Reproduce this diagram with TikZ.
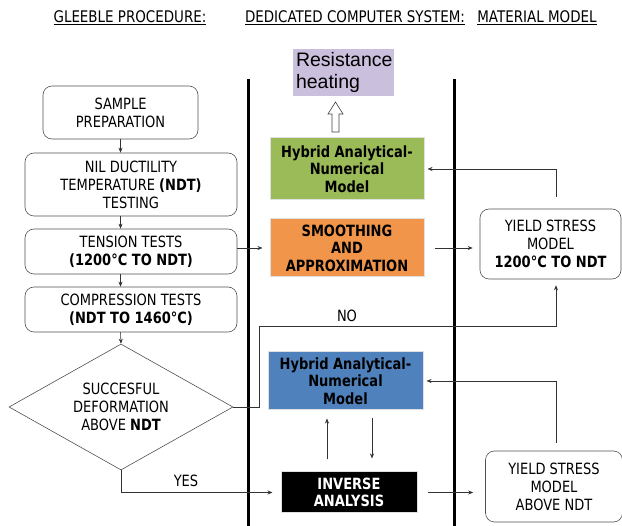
\documentclass[tikz,border=0pt]{standalone}
\usepackage{fontspec}
\setmainfont{DejaVu Sans}[FakeStretch=0.84]
\newfontfamily\arialfont{Liberation Sans}
\usetikzlibrary{shapes.geometric}
\usetikzlibrary{arrows.meta}

\definecolor{hybgreen}{HTML}{9BBB59}
\definecolor{smoothorange}{HTML}{F0954A}
\definecolor{hybblue}{HTML}{4F81BD}
\definecolor{heatlilac}{HTML}{CABFDC}
\definecolor{linegray}{HTML}{505050}

\tikzset{
  procbox/.style={draw=linegray, semithick, rounded corners=9pt, align=center, inner sep=0pt,
    font=\fontsize{15.5}{18}\selectfont},
  modelbox/.style={draw=black!12, line width=1pt, align=center, inner sep=0pt,
    font=\fontsize{15.5}{17.5}\selectfont\bfseries},
  flow/.style={draw=black!80, semithick, -{Stealth[length=5pt,width=4pt]}},
  header/.style={font=\fontsize{16}{18}\selectfont},
}

\begin{document}
\begin{tikzpicture}[x=1pt,y=-1pt]

\useasboundingbox (0,0) rectangle (622,526);

\node[header] (hgleeble) at (130,18) {\underline{GLEEBLE PROCEDURE:}};
\node[header] (hsystem) at (355,18) {\underline{DEDICATED COMPUTER SYSTEM:}};
\node[header] (hmaterial) at (537,18) {\underline{MATERIAL MODEL}};

\draw[line width=3pt] (248,79) -- (248,526);
\draw[line width=3pt] (454,79) -- (454,526);

\node[procbox, minimum width=155pt, minimum height=53pt] (sample) at (120.5,112.5) {SAMPLE\\PREPARATION};
\node[procbox, minimum width=212pt, minimum height=63pt] (ndt) at (131,184.5) {NIL DUCTILITY\\TEMPERATURE \textbf{(NDT)}\\TESTING};
\node[procbox, minimum width=212pt, minimum height=45pt] (tension) at (131,251.5) {TENSION TESTS\\\textbf{(1200°C TO NDT)}};
\node[procbox, minimum width=212pt, minimum height=45pt] (compr) at (131,309.5) {COMPRESSION TESTS\\\textbf{(NDT TO 1460°C)}};
\node[diamond, draw=linegray, semithick, shape aspect=1.8, minimum width=224pt, minimum height=126pt,
  inner sep=0pt, align=center, font=\fontsize{15.5}{18}\selectfont] (dia) at (121,407)
  {SUCCESFUL\\DEFORMATION\\ABOVE \textbf{NDT}};

\node[fill=heatlilac, minimum width=101pt, minimum height=45pt, text width=95pt, align=left,
  inner sep=3pt, font=\arialfont\fontsize{19.5}{22}\selectfont] (heat) at (343.5,72.5) {Resistance\\heating};
\node[modelbox, fill=hybgreen, minimum width=154pt, minimum height=62pt] (green) at (347,169) {Hybrid Analytical-\\Numerical\\Model};
\node[modelbox, fill=smoothorange, minimum width=154pt, minimum height=58pt] (orange) at (347,248) {SMOOTHING\\AND\\APPROXIMATION};
\node[modelbox, fill=hybblue, minimum width=155pt, minimum height=58pt] (blue) at (345.5,381) {Hybrid Analytical-\\Numerical\\Model};
\node[modelbox, fill=black, text=white, minimum width=136pt, minimum height=41pt] (inverse) at (349,492.5) {INVERSE\\ANALYSIS};

\node[procbox, minimum width=141pt, minimum height=70pt] (yieldndt) at (550.5,244) {YIELD STRESS\\MODEL\\\textbf{1200°C TO NDT}};
\node[procbox, minimum width=137pt, minimum height=71pt] (yieldabove) at (554,486.5) {YIELD STRESS\\MODEL\\ABOVE NDT};

\draw[black!75, semithick] (332,132) -- (332,114) -- (328,114) -- (335.5,102) -- (343,114) -- (339,114) -- (339,132) -- cycle;

\coordinate (nobend) at (259,326);
\coordinate (upx) at (327,0);
\coordinate (downx) at (372,0);

\draw[flow] (sample) -- (ndt.north -| sample.south);
\draw[flow] (ndt.south -| sample.south) -- (tension.north -| sample.south);
\draw[flow] (tension.south -| sample.south) -- (compr.north -| sample.south);
\draw[flow] (compr.south -| sample.south) -- (dia.north);
\draw[flow, shorten >=7pt] (tension.east |- orange.west) -- (orange.west);
\draw[flow, shorten <=10pt, shorten >=7pt] (orange.east) -- (yieldndt.west |- orange.east);
\draw[flow, shorten >=3pt] ([xshift=5.5pt,yshift=12pt]yieldndt.north) |- (green.east);
\draw[flow, shorten >=6pt] (dia.east) -| (nobend) -| ([xshift=5.5pt]yieldndt.south);
\node (nolabel) at (347,316) {\fontsize{15.5}{17}\selectfont NO};
\draw[flow, shorten >=8pt] (dia.south) |- (inverse.west);
\node (yeslabel) at (186,481) {\fontsize{15.5}{17}\selectfont YES};
\draw[flow, shorten <=12pt, shorten >=8pt] (inverse.north -| upx) -- (blue.south -| upx);
\draw[flow, shorten <=8pt, shorten >=13pt] (blue.south -| downx) -- (inverse.north -| downx);
\draw[flow, shorten <=10pt, shorten >=12pt] (inverse.east) -- (yieldabove.west |- inverse.east);
\draw[flow, shorten >=3pt] ([xshift=2pt,yshift=8pt]yieldabove.north) |- (blue.east);

\end{tikzpicture}
\end{document}
